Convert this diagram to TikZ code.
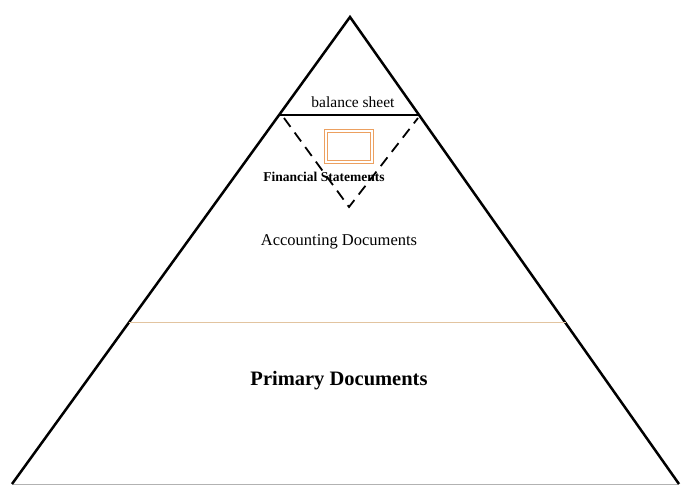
\documentclass[tikz,border=0pt]{standalone}
\usepackage{fontspec}
\setmainfont{Liberation Serif}
\usepackage{tikz}
\usetikzlibrary{calc}
\definecolor{boxorange}{RGB}{236,160,96}
\definecolor{lineorange}{RGB}{226,196,160}

\begin{document}
\begin{tikzpicture}[
        x=1pt, y=-1pt,
        edge/.style={draw, line width=2.5pt},
        split/.style={draw, line width=1.8pt},
        cut/.style={draw, line width=1.8pt, dash pattern=on 11pt off 7pt},
        label/.style={inner sep=0pt, align=center}
    ]
        \useasboundingbox (0,0) rectangle (683,486);

        \coordinate (top) at (350,17);
        \coordinate (bl) at (12,484);
        \coordinate (br) at (679,484);

        % base and sides
        \draw[gray!60, line width=1pt] (bl) -- (br);
        \draw[edge, line join=miter] (bl) -- (top) -- (br);

        % balance sheet level
        \coordinate (bsl) at ($(top)!0.21!(bl)$);
        \coordinate (bsr) at ($(top)!0.21!(br)$);
        \draw[split] (bsl) -- (bsr);
        \node[label, font=\fontsize{15.5}{17}\selectfont] (bs) at (353,102) {balance sheet};

        % statements wedge
        \coordinate (fsl) at (284,118);
        \coordinate (fsr) at (418,118);
        \coordinate (fsb) at (349,207);
        \draw[cut] (fsl) -- (fsb) -- (fsr);
        \draw[boxorange, line width=1pt, double=white, double distance=1.6pt] (326,131) rectangle (372,162);
        \node[label, font=\fontsize{13.5}{15}\selectfont\bfseries] (fs) at (324,177) {Financial Statements};

        \node[label, font=\fontsize{16.5}{18}\selectfont] (acc) at (339,242) {Accounting Documents};

        % primary level
        \coordinate (pl) at ($(top)!0.655!(bl)$);
        \coordinate (pr) at ($(top)!0.655!(br)$);
        \draw[lineorange, line width=1.2pt] (pl) -- (pr);
        \node[label, font=\fontsize{20.5}{22}\selectfont\bfseries] (prim) at (339,381) {Primary Documents};
    \end{tikzpicture}
\end{document}
